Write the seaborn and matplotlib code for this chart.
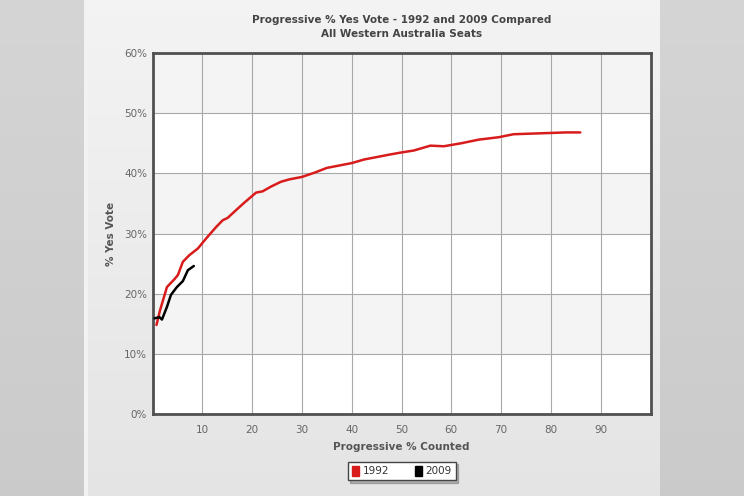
import numpy as np
import pandas as pd
import matplotlib
matplotlib.use("Agg")
import matplotlib.pyplot as plt
import seaborn as sns
from matplotlib.patches import Patch

# ---- data ----
x_1992 = [0.8, 1.5, 2.9, 4.4, 5.1, 6.1, 7.4, 9.1, 10.8, 12.8, 14.1, 15.1, 16.8, 18.4,
          20.8, 22.1, 23.8, 25.8, 27.5, 30.0, 32.5, 35.0, 37.5, 40.0, 42.5, 45.0,
          47.5, 49.5, 52.5, 55.8, 58.5, 62.0, 65.5, 69.5, 72.5, 76.0, 79.6, 83.0, 85.9]
y_1992 = [14.8, 17.2, 21.1, 22.4, 23.1, 25.3, 26.4, 27.5, 29.2, 31.1, 32.2, 32.6, 33.9, 35.1,
          36.8, 37.0, 37.8, 38.6, 39.0, 39.4, 40.1, 40.9, 41.3, 41.7, 42.3, 42.7,
          43.1, 43.4, 43.8, 44.6, 44.5, 45.0, 45.6, 46.0, 46.5, 46.6, 46.7, 46.8, 46.8]
x_2009 = [0.4, 1.4, 1.9, 2.9, 3.7, 4.9, 6.1, 7.1, 8.3]
y_2009 = [15.9, 16.1, 15.7, 17.8, 19.8, 21.1, 22.1, 23.9, 24.6]
series_names = ["1992", "2009"]
series_colors = ["#d81c1c", "#000000"]
x_ticks = [10, 20, 30, 40, 50, 60, 70, 80, 90]
y_ticks = [0, 10, 20, 30, 40, 50, 60]
title_text = "Progressive % Yes Vote - 1992 and 2009 Compared\nAll Western Australia Seats"
x_label = "Progressive % Counted"
y_label = "% Yes Vote"

df = pd.concat([
    pd.DataFrame({"x": x_1992, "y": y_1992, "year": "1992"}),
    pd.DataFrame({"x": x_2009, "y": y_2009, "year": "2009"}),
])

sns.set_theme(style="white")
plt.rcParams["font.family"] = ["DejaVu Sans"]

W, H = 744, 496
fig = plt.figure(figsize=(W / 100, H / 100), dpi=100)

# ---- background ----
bg = fig.add_axes([0, 0, 1, 1], zorder=-10)
t = np.linspace(0, 1, H)[:, None]
img = np.zeros((H, W, 3))
side = (0.835 - 0.04 * t)
panel = (0.955 - 0.06 * t)
img[:, :, :] = side[:, :, None]
img[:, 84:88, :] = 0.95
img[:, 88:660, :] = panel[:, :, None]
bg.imshow(img, aspect="auto", extent=[0, W, H, 0])
bg.axis("off")

# ---- main axes ----
ax = fig.add_axes([152.5 / W, 1 - 414 / H, (650.5 - 152.5) / W, (414 - 53) / H])
ax.set_facecolor("white")
for i, lo in enumerate(range(0, 60, 10)):
    if i % 2 == 1:
        ax.axhspan(lo, lo + 10, color="#f4f4f4", zorder=0, lw=0)

sns.lineplot(data=df, x="x", y="y", hue="year", palette=dict(zip(series_names, series_colors)),
             ax=ax, legend=False, linewidth=1.8, zorder=3)

ax.set_xlim(0, 100)
ax.set_ylim(0, 60)
ax.set_xticks(x_ticks)
ax.set_yticks(y_ticks)
ax.set_yticklabels([f"{v}%" for v in y_ticks])
ax.grid(True, color="#a8a8a8", linewidth=0.8, zorder=1)
ax.set_axisbelow(True)
ax.tick_params(axis="both", length=0, labelsize=7.5, labelcolor="#666666", pad=8)
ax.tick_params(axis="y", pad=4)
for s in ax.spines.values():
    s.set_color("#505050")
    s.set_linewidth(2)

ax.set_xlabel(x_label, fontsize=7.5, fontweight="bold", color="#555555", labelpad=5)
ax.set_ylabel(y_label, fontsize=7.5, fontweight="bold", color="#555555", labelpad=6)
fig.text(402 / W, 1 - 27 / H, title_text, ha="center", va="center", fontsize=7.5,
         fontweight="bold", color="#444444", linespacing=1.6)

handles = [Patch(facecolor=c, edgecolor=c) for c in series_colors]
leg = fig.legend(handles, series_names, loc="center", bbox_to_anchor=(402 / W, 1 - 471 / H),
                 ncol=2, frameon=True, fancybox=False,
                 shadow={"ox": 1.5, "oy": -1.5, "alpha": 0.35},
                 fontsize=7.5,
                 handlelength=0.7, handleheight=1.1, handletextpad=0.3, columnspacing=2.5,
                 borderpad=0.4, edgecolor="#444444")
leg.get_frame().set_linewidth(1)
for txt in leg.get_texts():
    txt.set_color("#333333")

fig.savefig("out.png", dpi=100)
